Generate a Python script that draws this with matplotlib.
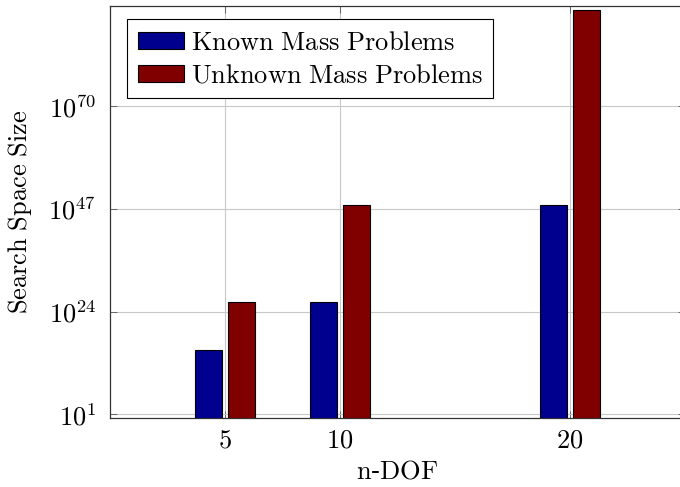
import numpy as np
import matplotlib
matplotlib.use("Agg")
import matplotlib.pyplot as plt

# search space sizes (exponents of ten) per degrees of freedom
n_dof = np.array([5, 10, 20])
known_exp = np.array([15.4, 26.2, 48.0])
unknown_exp = np.array([26.2, 48.0, 91.5])
y_ticks_exp = [1, 24, 47, 70]

plt.rcParams["mathtext.fontset"] = "cm"
plt.rcParams["font.family"] = "serif"
plt.rcParams["font.serif"] = ["DejaVu Serif"]

fig = plt.figure(figsize=(6.8, 4.87), dpi=100)
ax = fig.add_axes([110 / 680, 69 / 487, 575 / 680, 412 / 487])

y_low = 10 ** 0.17
bar_w = 1.15
shift = 0.72
ax.bar(n_dof - shift, 10.0 ** known_exp - y_low, bottom=y_low, width=bar_w,
       color="#00008f", edgecolor="black", linewidth=0.8, zorder=3,
       label=r"$\mathrm{Known\ Mass\ Problems}$")
ax.bar(n_dof + shift, 10.0 ** unknown_exp - y_low, bottom=y_low, width=bar_w,
       color="#800000", edgecolor="black", linewidth=0.8, zorder=3,
       label=r"$\mathrm{Unknown\ Mass\ Problems}$")

ax.set_yscale("log")
ax.set_xlim(0, 25)
ax.set_ylim(y_low, 10 ** 92.5)
ax.set_xticks(n_dof)
ax.set_xticklabels([rf"${v}$" for v in n_dof])
ax.set_yticks([10.0 ** e for e in y_ticks_exp])
ax.set_yticklabels([rf"$10^{{{e}}}$" for e in y_ticks_exp])
ax.yaxis.set_minor_locator(matplotlib.ticker.NullLocator())

ax.tick_params(axis="both", which="major", direction="in", length=5,
               labelsize=19, top=True, right=True, width=0.6, color="#555555")
ax.tick_params(axis="x", pad=7)
ax.tick_params(axis="y", pad=10)
ax.grid(True, color="#c8c8c8", linewidth=0.8, zorder=0)
for sp in ax.spines.values():
    sp.set_color("#333333")
    sp.set_linewidth(0.9)

ax.set_xlabel(r"$\mathrm{n}$-$\mathrm{DOF}$", fontsize=19, labelpad=4)
ax.set_ylabel(r"$\mathrm{Search\ Space\ Size}$", fontsize=19, labelpad=10)

leg = ax.legend(loc="upper left", bbox_to_anchor=(0.03, 0.968), fontsize=19,
                fancybox=False, framealpha=1, edgecolor="black",
                handlelength=1.75, handleheight=0.6, handletextpad=0.25,
                borderpad=0.4, labelspacing=0.3, borderaxespad=0)
leg.get_frame().set_linewidth(0.8)

fig.savefig("out.png", dpi=100)
